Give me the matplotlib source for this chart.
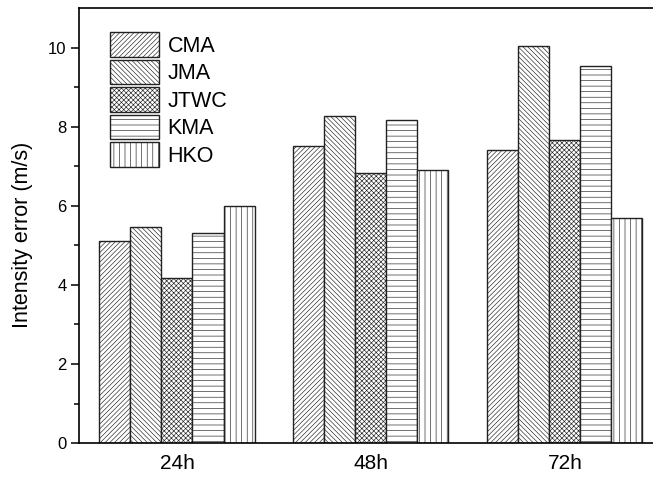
import numpy as np
import matplotlib
matplotlib.use("Agg")
import matplotlib.pyplot as plt

plt.rcParams['font.family'] = ['Liberation Sans', 'DejaVu Sans']
plt.rcParams['hatch.linewidth'] = 0.45

# forecast lead times and agencies
leads = ['24h', '48h', '72h']
agencies = ['CMA', 'JMA', 'JTWC', 'KMA', 'HKO']
hatches = ['/' * 7, '\\' * 7, 'x' * 7, '---', '|||']

# intensity error (m/s)
cma = [5.12, 7.51, 7.40]
jma = [5.47, 8.28, 10.04]
jtwc = [4.17, 6.82, 7.67]
kma = [5.32, 8.17, 9.54]
hko = [6.00, 6.91, 5.68]
errors = [cma, jma, jtwc, kma, hko]

fig = plt.figure(figsize=(6.53, 4.8), dpi=100)
ax = fig.add_axes([0.121, 0.077, 0.894, 0.906])

x = np.arange(len(leads))
w = 0.16
for i, (name, vals, h) in enumerate(zip(agencies, errors, hatches)):
    ax.bar(x + (i - 2) * w, vals, w, label=name, facecolor='white',
           edgecolor='#222222', hatch=h, linewidth=1.0)

ax.set_xlim(-0.505, 2.505)
ax.set_ylim(0, 11)
ax.set_xticks(x)
ax.set_xticklabels(leads, fontsize=15)
ax.tick_params(axis='x', length=0, pad=8)
ax.set_yticks([0, 2, 4, 6, 8, 10])
ax.set_yticks([1, 3, 5, 7, 9], minor=True)
ax.tick_params(axis='y', which='major', length=6, width=1.1, labelsize=12, pad=3)
ax.tick_params(axis='y', which='minor', length=3.5, width=1.1)
ax.set_ylabel('Intensity error (m/s)', fontsize=15.5)
ax.yaxis.set_label_coords(-0.079, 0.478)
for s in ax.spines.values():
    s.set_linewidth(1.2)

ax.legend(loc='upper left', bbox_to_anchor=(0.053, 0.945), frameon=False,
          fontsize=15.5, borderpad=0, borderaxespad=0, handlelength=2.28,
          handleheight=1.38, labelspacing=0.14, handletextpad=0.4)

fig.savefig('out.png', dpi=100)
